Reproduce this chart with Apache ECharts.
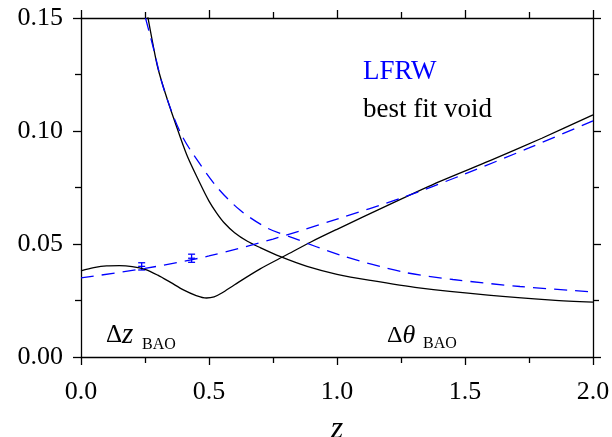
<!DOCTYPE html>
<html>
<head>
<meta charset="utf-8">
<script src="https://cdn.jsdelivr.net/npm/echarts@6/dist/echarts.min.js"></script>
<style>
  html, body { margin: 0; padding: 0; background: #fff; }
  #chart { width: 612px; height: 437px; }
</style>
</head>
<body>
<div id="chart"></div>
<script>
// best fit void, Δθ (falling) curve
const voidThetaZ = [0.261, 0.28, 0.30, 0.33, 0.367, 0.413, 0.46, 0.50, 0.53, 0.56, 0.60, 0.65, 0.70, 0.777, 0.883, 1.0, 1.13, 1.32, 1.59, 1.84, 2.0];
const voidThetaV = [0.1505, 0.139, 0.128, 0.1165, 0.104, 0.0895, 0.078, 0.069, 0.0637, 0.0593, 0.055, 0.0512, 0.0484, 0.0445, 0.0401, 0.0366, 0.0339, 0.0306, 0.0274, 0.0252, 0.0243];

// best fit void, Δz (rising) curve
const voidZZ = [0, 0.05, 0.1, 0.15, 0.2, 0.25, 0.3, 0.35, 0.4, 0.45, 0.49, 0.52, 0.55, 0.6, 0.7, 0.8, 0.9, 1.0, 1.2, 1.4, 1.6, 1.8, 2.0];
const voidZV = [0.0381, 0.0395, 0.0403, 0.0404, 0.0400, 0.0388, 0.0362, 0.0330, 0.0297, 0.0272, 0.0261, 0.0266, 0.0283, 0.0320, 0.0390, 0.0450, 0.0510, 0.0565, 0.0672, 0.0776, 0.0870, 0.0968, 0.1071];

// LFRW, Δθ curve
const lfrwThetaZ = [0.252, 0.283, 0.315, 0.354, 0.393, 0.432, 0.531, 0.621, 0.727, 0.828, 1.012, 1.258, 1.453, 1.715, 2.0];
const lfrwThetaV = [0.150, 0.1366, 0.1218, 0.1086, 0.0982, 0.0908, 0.0752, 0.065, 0.0571, 0.0527, 0.0451, 0.0376, 0.0343, 0.0312, 0.0288];

// LFRW, Δz curve
const lfrwZZ = [0, 0.25, 0.5, 0.75, 1.0, 1.25, 1.5, 1.75, 2.0];
const lfrwZV = [0.0350, 0.0392, 0.0447, 0.0522, 0.0610, 0.0703, 0.0810, 0.0925, 0.1045];

// BAO points with error bars
const baoZ = [0.237, 0.432];
const baoV = [0.0401, 0.0437];
const baoErr = [0.0016, 0.0018];

const xTicks = ['0.0', '0.5', '1.0', '1.5', '2.0'];

const serif = 'Liberation Serif, Times New Roman, serif';
const blue = '#0000ff';

function pairs(xs, ys) {
  return xs.map((x, i) => [x, ys[i]]);
}

const myChart = echarts.init(document.getElementById('chart'));

const axisCommon = {
  type: 'value',
  axisLine: { show: true, onZero: false, lineStyle: { color: '#000', width: 1.3 } },
  axisTick: { show: true, inside: false, length: 8, lineStyle: { color: '#000', width: 1.3 } },
  minorTick: { show: true, splitNumber: 2, length: 6, lineStyle: { color: '#000', width: 1.3 } },
  splitLine: { show: false },
  minorSplitLine: { show: false }
};

const option = {
  animation: false,
  grid: { left: 81, right: 19, top: 18, bottom: 80, containLabel: false, outerBoundsMode: 'none' },
  xAxis: [
    Object.assign({}, axisCommon, {
      position: 'bottom',
      min: 0, max: 2, interval: 0.5,
      axisLabel: {
        color: '#000', fontFamily: serif, fontSize: 26, margin: 22,
        formatter: v => xTicks[Math.round(v / 0.5)]
      },
      name: 'z',
      nameLocation: 'middle',
      nameGap: 73,
      nameTextStyle: { color: '#000', fontFamily: serif, fontStyle: 'italic', fontSize: 32, verticalAlign: 'middle' }
    }),
    Object.assign({}, axisCommon, {
      position: 'top',
      min: 0, max: 2, interval: 0.5,
      axisLabel: { show: false }
    })
  ],
  yAxis: [
    Object.assign({}, axisCommon, {
      position: 'left',
      min: 0, max: 0.15, interval: 0.05,
      axisLabel: {
        color: '#000', fontFamily: serif, fontSize: 26, margin: 18,
        formatter: v => v.toFixed(2)
      }
    }),
    Object.assign({}, axisCommon, {
      position: 'right',
      min: 0, max: 0.15, interval: 0.05,
      axisLabel: { show: false }
    })
  ],
  series: [
    {
      type: 'line', data: pairs(voidThetaZ, voidThetaV), showSymbol: false, symbol: 'none',
      smooth: 0.3, clip: true,
      lineStyle: { color: '#000', width: 1.3 }
    },
    {
      type: 'line', data: pairs(voidZZ, voidZV), showSymbol: false, symbol: 'none',
      smooth: 0.3, clip: true,
      lineStyle: { color: '#000', width: 1.3 }
    },
    {
      type: 'line', data: pairs(lfrwThetaZ, lfrwThetaV), showSymbol: false, symbol: 'none',
      smooth: 0.3, clip: true,
      lineStyle: { color: blue, width: 1.3, type: [13, 8] }
    },
    {
      type: 'line', data: pairs(lfrwZZ, lfrwZV), showSymbol: false, symbol: 'none',
      smooth: 0.3, clip: true,
      lineStyle: { color: blue, width: 1.3, type: [13, 8] }
    },
    {
      type: 'custom',
      data: baoZ.map((z, i) => [z, baoV[i], baoV[i] - baoErr[i], baoV[i] + baoErr[i]]),
      renderItem: function (params, api) {
        const mid = api.coord([api.value(0), api.value(1)]);
        const lo = api.coord([api.value(0), api.value(2)]);
        const hi = api.coord([api.value(0), api.value(3)]);
        const w = 3.5;
        const st = { stroke: blue, lineWidth: 1.3 };
        return {
          type: 'group',
          children: [
            { type: 'line', shape: { x1: lo[0], y1: lo[1], x2: hi[0], y2: hi[1] }, style: st },
            { type: 'line', shape: { x1: lo[0] - w, y1: lo[1], x2: lo[0] + w, y2: lo[1] }, style: st },
            { type: 'line', shape: { x1: hi[0] - w, y1: hi[1], x2: hi[0] + w, y2: hi[1] }, style: st },
            { type: 'line', shape: { x1: mid[0] - w, y1: mid[1], x2: mid[0] + w, y2: mid[1] }, style: st }
          ]
        };
      }
    }
  ],
  graphic: [
    { type: 'text', left: 363, top: 58, style: { text: 'LFRW', fill: blue, font: '27px ' + serif } },
    { type: 'text', left: 363, top: 96, style: { text: 'best fit void', fill: '#000', font: '27px ' + serif } },
    {
      type: 'text', x: 106, y: 335,
      style: {
        text: '{a|Δ}{b|z}', verticalAlign: 'middle',
        rich: {
          a: { fontFamily: serif, fontSize: 25, fill: '#000' },
          b: { fontFamily: serif, fontSize: 29, fontStyle: 'italic', fill: '#000' }
        }
      }
    },
    { type: 'text', x: 142, y: 345, style: { text: 'BAO', fill: '#000', font: '16px ' + serif, verticalAlign: 'middle' } },
    {
      type: 'text', x: 387, y: 336,
      style: {
        text: '{a|Δ}{b|θ}', verticalAlign: 'middle',
        rich: {
          a: { fontFamily: serif, fontSize: 24, fill: '#000' },
          b: { fontFamily: serif, fontSize: 26, fontStyle: 'italic', fill: '#000' }
        }
      }
    },
    { type: 'text', x: 423, y: 344, style: { text: 'BAO', fill: '#000', font: '16px ' + serif, verticalAlign: 'middle' } }
  ]
};

if (option && typeof option === 'object') {
  myChart.setOption(option);
}
</script>
</body>
</html>
